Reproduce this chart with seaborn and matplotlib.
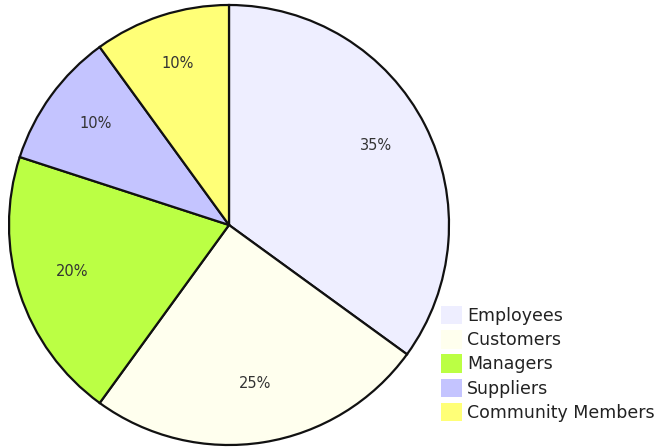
import matplotlib
matplotlib.use("Agg")
import matplotlib.pyplot as plt
import seaborn as sns

categories = ["Employees", "Customers", "Managers", "Suppliers", "Community Members"]
values = [35, 25, 20, 10, 10]
colors = ["#EEEEFF", "#FFFFEE", "#BBFF44", "#C4C4FF", "#FFFF77"]

sns.set_theme(style="white")
plt.rcParams['font.family'] = ['DejaVu Sans']

fig = plt.figure(figsize=(6.57, 4.48), dpi=100)
fig.patch.set_facecolor("white")
ax = fig.add_axes([9/657, 3/448, 440/657, 440/448])

wedges, texts, autotexts = ax.pie(
    values, colors=colors, startangle=90, counterclock=False,
    autopct=lambda p: f"{p:.0f}%", pctdistance=0.75, radius=1.0,
    wedgeprops=dict(edgecolor="#111111", linewidth=1.6),
    textprops=dict(color="#333333", fontsize=10.5),
)
for t in autotexts:
    x, y = t.get_position()
    t.set_position((x, y + 0.02))
ax.set_xlim(-1.0, 1.0)
ax.set_ylim(-1.0, 1.0)
ax.set_aspect("equal")
ax.axis("off")

leg = fig.legend(wedges, categories, loc="upper left",
                 bbox_to_anchor=(441/657, 1 - 306/448),
                 frameon=False, fontsize=12.5, handlelength=1.2, handleheight=1.25,
                 handletextpad=0.3, labelspacing=0.3, borderaxespad=0,
                 borderpad=0)
for h in leg.legend_handles:
    h.set_edgecolor("none")
for t in leg.get_texts():
    t.set_color("#222222")

fig.savefig("out.png", dpi=100, facecolor="white")
